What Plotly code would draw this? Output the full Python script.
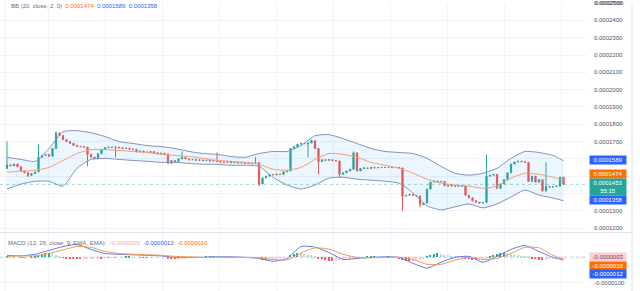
import plotly.graph_objects as go

# ---------------- data (prices in units of 1e-7) ----------------
U = 1e-7
OPEN_FIRST = 1545
CLOSE = [
    1565, 1560, 1570, 1555, 1530, 1520, 1505, 1515, 1525, 1609,
    1620, 1625, 1615, 1660, 1750, 1735, 1712, 1700, 1690, 1678,
    1672, 1670, 1668, 1626, 1610, 1600, 1630, 1655, 1665, 1668,
    1666, 1668, 1664, 1660, 1662, 1657, 1655, 1640, 1645, 1640,
    1637, 1642, 1635, 1630, 1633, 1628, 1575, 1590, 1585, 1600,
    1609, 1600, 1595, 1597, 1592, 1594, 1590, 1592, 1588, 1590,
    1586, 1582, 1580, 1583, 1578, 1580, 1576, 1578, 1574, 1576,
    1572, 1578, 1455, 1490, 1500, 1510, 1508, 1512, 1510, 1525,
    1530, 1660, 1670, 1685, 1690, 1688, 1692, 1705, 1660, 1585,
    1595, 1592, 1595, 1590, 1588, 1511, 1520, 1530, 1540, 1635,
    1530, 1545, 1548, 1545, 1550, 1548, 1550, 1551, 1550, 1551,
    1550, 1551, 1548, 1385, 1390, 1395, 1388, 1385, 1335, 1345,
    1426, 1466, 1472, 1468, 1470, 1445, 1443, 1445, 1442, 1444,
    1443, 1390, 1375, 1358, 1350, 1345, 1348, 1500, 1505, 1510,
    1430, 1455, 1480, 1520, 1570, 1582, 1586, 1583, 1580, 1470,
    1500, 1466, 1480, 1414, 1440, 1437, 1440, 1443, 1494, 1453,
]
HIGH_WICK = {0: 1700, 9: 1683, 14: 1757, 50: 1643, 60: 1637, 71: 1609,
             87: 1711, 99: 1643, 137: 1626, 154: 1580}
LOW_WICK = {6: 1495, 23: 1557, 31: 1609, 72: 1443, 73: 1470, 86: 1609,
            89: 1511, 95: 1494, 113: 1300, 118: 1320}

BAND_IDX = [0, 4, 8, 12, 16, 20, 24, 28, 32, 36, 40, 44, 48, 52, 56, 60, 64, 68, 72, 76,
            80, 84, 88, 92, 96, 100, 104, 108, 112, 116, 120, 124, 128, 132, 136, 140,
            144, 148, 152, 156, 159]
BB_UPPER = [1609, 1597, 1586, 1660, 1757, 1763, 1751, 1729, 1700, 1689, 1677, 1671, 1660,
            1643, 1631, 1626, 1614, 1609, 1631, 1643, 1643, 1677, 1734, 1740, 1717, 1689,
            1660, 1643, 1637, 1631, 1603, 1557, 1517, 1506, 1517, 1546, 1603, 1643, 1637,
            1620, 1589]
BB_BASIS = [1523, 1529, 1534, 1551, 1591, 1631, 1654, 1654, 1649, 1643, 1637, 1626, 1620,
            1614, 1603, 1591, 1586, 1580, 1569, 1540, 1534, 1551, 1597, 1631, 1626, 1609,
            1580, 1563, 1546, 1517, 1483, 1460, 1449, 1443, 1431, 1443, 1489, 1517, 1511,
            1494, 1474]
BB_LOWER = [1426, 1454, 1471, 1471, 1443, 1546, 1597, 1603, 1597, 1591, 1586, 1580, 1580,
            1574, 1569, 1569, 1563, 1563, 1557, 1494, 1449, 1426, 1449, 1489, 1494, 1483,
            1477, 1471, 1460, 1403, 1329, 1306, 1323, 1340, 1317, 1340, 1380, 1420, 1391,
            1374, 1358]

MACD_LINE = [6, 4, 10, 25, 40, 48, 29, 13, 10, 8, 6, 4, -2, -2, -2, 0, 0, -2, -6, -17,
             -6, 40, 38, 17, -10, -6, -2, 0, -2, -25, -44, -21, -2, 2, -21, 2, 29, 44, 21,
             -2, -12]
MACD_SIGNAL = [2, 4, 4, 13, 27, 40, 37, 21, 13, 10, 8, 6, 2, 0, -2, -2, -2, -2, -4, -10,
               -12, 15, 35, 30, 10, -2, -4, -2, -2, -10, -29, -29, -13, -2, -10, -6, 13,
               37, 35, 6, -10]
MACD_HIST = [3, 2, 1, 0, -1, -1, 0, 1, 2,
             8, 12, 15, 17,
             12, 9, 5,
             -2, -4, -6, -7, -8, -8, -7, -6, -5,
             -4, -3, -3, -2, -2, -1, -1, 0, 0, 1, 1, 0, 0, -1, -1, -1, 0, 0, 0, 0, 0,
             -3, -5, -6, -5, -4, -3, -2,
             -1, -1, 0, 0, 1, 1, 1, 0, 0, 0, -1, -1, -1, 0, 0, 0, -1, -1, -1,
             -6, -10, -12, -11, -9, -6, -4, -2, 0,
             8, 14, 18, 16, 14, 10, 7, 4,
             -4, -8, -12, -14, -15, -13, -11, -9, -7,
             -5, -3, -2, -1, 0, 1, 1, 1, 0, 0, 0, 1, 0, 0,
             -4, -9, -13, -16, -15, -12, -9,
             -4, 2, 8, 13, 15, 13, 10, 8, 6, 5, 3, 2,
             -3, -7, -10, -12, -10, -7, -3,
             4, 8, 12, 15, 17, 16, 14, 12, 9, 6, 4, 2,
             -4, -8, -11, -12, -10, -8, -7, -6, -5, -3]

PRICE_TICKS = [1200, 1300, 1400, 1500, 1600, 1700, 1800, 1900, 2000, 2100, 2200, 2300, 2400, 2500]
HIDDEN_TICKS = [1400, 1500, 1600]
LAST_CLOSE = 1453
LAST_UPPER, LAST_BASIS, LAST_LOWER = 1589, 1474, 1358
LAST_HIST, LAST_MACD, LAST_SIGNAL = -3, -12, -10
COUNTDOWN = "55:15"

# ---------------- layout helpers ----------------
W, H = 640, 291
PLOT_R = 587           # right edge of plot area (px)
PANE_SPLIT = 232       # px where MACD pane starts
STEP_PX = 3.5
FIRST_PX = 7


def px2x(px):
    return px / PLOT_R


def py2y(py):
    return (H - py) / H


GREEN, RED = "#26a69a", "#ef5350"
BLUE, ORANGE = "#2962ff", "#ff6d00"
GRID = "#f0f3fa"
TXT = "#50535e"
FONT = "Liberation Sans, Arial, sans-serif"

n = len(CLOSE)
idx = list(range(n))
opens = [OPEN_FIRST] + CLOSE[:-1]
highs = [max(o, c, HIGH_WICK.get(i, 0)) * U for i, (o, c) in enumerate(zip(opens, CLOSE))]
lows = [min(o, c, LOW_WICK.get(i, 10 ** 9)) * U for i, (o, c) in enumerate(zip(opens, CLOSE))]

fig = go.Figure()

# Bollinger fill + lines
band_line = dict(color="#8593c4", width=1, shape="spline", smoothing=0.6)
fig.add_trace(go.Scatter(x=BAND_IDX, y=[v * U for v in BB_UPPER], mode="lines", line=band_line,
                         hoverinfo="skip", showlegend=False))
fig.add_trace(go.Scatter(x=BAND_IDX, y=[v * U for v in BB_LOWER], mode="lines", line=band_line,
                         fill="tonexty", fillcolor="rgba(33,150,243,0.09)",
                         hoverinfo="skip", showlegend=False))
fig.add_trace(go.Scatter(x=BAND_IDX, y=[v * U for v in BB_BASIS], mode="lines",
                         line=dict(color="#f5a06e", width=1, shape="spline", smoothing=0.6),
                         hoverinfo="skip", showlegend=False))

# Candles
fig.add_trace(go.Candlestick(
    x=idx, open=[v * U for v in opens], close=[v * U for v in CLOSE], high=highs, low=lows,
    increasing=dict(line=dict(color=GREEN, width=1), fillcolor=GREEN),
    decreasing=dict(line=dict(color=RED, width=1), fillcolor=RED),
    whiskerwidth=0, showlegend=False, hoverinfo="skip"))

# MACD histogram colours
hist_colors = []
prev = 0
for v in MACD_HIST:
    if v >= 0:
        hist_colors.append("#26a69a" if v >= prev else "#b2dfdb")
    else:
        hist_colors.append("#ffcdd2" if v > prev else "#ff5252")
    prev = v
fig.add_trace(go.Bar(x=idx, y=[v * U for v in MACD_HIST], marker=dict(color=hist_colors, line=dict(width=0)),
                     width=0.5, xaxis="x2", yaxis="y2", showlegend=False, hoverinfo="skip"))
fig.add_trace(go.Scatter(x=BAND_IDX, y=[v * U for v in MACD_LINE], mode="lines",
                         line=dict(color="#5b7ff0", width=1, shape="spline", smoothing=0.6),
                         xaxis="x2", yaxis="y2", showlegend=False, hoverinfo="skip"))
fig.add_trace(go.Scatter(x=BAND_IDX, y=[v * U for v in MACD_SIGNAL], mode="lines",
                         line=dict(color="#f59a55", width=1, shape="spline", smoothing=0.6),
                         xaxis="x2", yaxis="y2", showlegend=False, hoverinfo="skip"))

x_lo = (0 - FIRST_PX) / STEP_PX
x_hi = (PLOT_R - FIRST_PX) / STEP_PX
grid_x0 = (48 - FIRST_PX) / STEP_PX
grid_dx = 57 / STEP_PX

main_bot = 1700 - (PANE_SPLIT - 140) * 100 / 17.5
main_top = 1700 + 140 * 100 / 17.5 + 0.3
zero_py = 256.5
per_px = 100 / 26.0
macd_top = (zero_py - PANE_SPLIT) * per_px
macd_bot = -(H - zero_py) * per_px

split = py2y(PANE_SPLIT)
xcommon = dict(range=[x_lo, x_hi], showticklabels=False, showgrid=True, gridcolor=GRID,
               gridwidth=1, tick0=grid_x0, dtick=grid_dx, zeroline=False, showline=False,
               rangeslider=dict(visible=False), fixedrange=True)
fig.update_layout(
    width=W, height=H, margin=dict(l=0, r=W - PLOT_R, t=0, b=0),
    paper_bgcolor="white", plot_bgcolor="white", font=dict(family=FONT, size=6, color=TXT),
    showlegend=False, bargap=0, boxgap=0.5,
    xaxis=dict(domain=[0, 1], anchor="y", **xcommon),
    xaxis2=dict(domain=[0, 1], anchor="y2", matches="x", **xcommon),
    yaxis=dict(domain=[split, 1], side="right", range=[main_bot * U, main_top * U],
               tickvals=[v * U for v in PRICE_TICKS],
               ticktext=["" if v in HIDDEN_TICKS else f"{v * U:.7f}" for v in PRICE_TICKS],
               showgrid=True, gridcolor=GRID, zeroline=False, ticks="", ticklabelstandoff=6,
               ticklabeloverflow="allow",
               tickfont=dict(size=6, color=TXT, family=FONT), fixedrange=True),
    yaxis2=dict(domain=[0, split], side="right", range=[macd_bot * U, macd_top * U],
                tickvals=[0, -100 * U], ticktext=["", "-0.0000100"],
                showgrid=True, gridcolor=GRID, zeroline=False, ticks="", ticklabelstandoff=6,
                tickfont=dict(size=6, color=TXT, family=FONT), fixedrange=True),
)

shapes = [
    dict(type="line", xref="x", yref="y", x0=x_lo, x1=x_hi, y0=LAST_CLOSE * U, y1=LAST_CLOSE * U,
         line=dict(color="rgba(38,166,154,0.45)", width=1, dash="dot")),
    dict(type="line", xref="x2", yref="y2", x0=x_lo, x1=x_hi, y0=LAST_HIST * U, y1=LAST_HIST * U,
         line=dict(color="rgba(255,160,170,0.7)", width=1, dash="dot")),
    dict(type="line", xref="paper", yref="paper", x0=0, x1=px2x(632), y0=split, y1=split,
         line=dict(color="#e0e3eb", width=1)),
    dict(type="line", xref="paper", yref="paper", x0=px2x(632), x1=px2x(632), y0=0, y1=1,
         line=dict(color="#e0e3eb", width=1)),
    dict(type="line", xref="paper", yref="paper", x0=px2x(5), x1=px2x(5), y0=0, y1=1,
         line=dict(color="#eef0f5", width=1)),
]
fig.update_layout(shapes=shapes)

ann = []
# top-left legends
ann.append(dict(xref="paper", yref="paper", x=px2x(9), y=py2y(3), xanchor="left", yanchor="middle",
                showarrow=False, font=dict(size=6, color="#6a6d78", family=FONT),
                text=("BB (20, close, 2, 0)&nbsp;&nbsp;"
                      f"<span style='color:{ORANGE}'>{LAST_BASIS * U:.7f}</span>&nbsp;&nbsp;"
                      f"<span style='color:{BLUE}'>{LAST_UPPER * U:.7f}</span>&nbsp;&nbsp;"
                      f"<span style='color:{BLUE}'>{LAST_LOWER * U:.7f}</span>")))
ann.append(dict(xref="paper", yref="paper", x=px2x(6), y=py2y(242), xanchor="left", yanchor="middle",
                showarrow=False, font=dict(size=6, color="#6a6d78", family=FONT),
                text=("MACD (12, 26, close, 9, EMA, EMA)&nbsp;&nbsp;&nbsp;"
                      f"<span style='color:#f7a8b0'>{LAST_HIST * U:.7f}</span>&nbsp;&nbsp;"
                      f"<span style='color:{BLUE}'>{LAST_MACD * U:.7f}</span>&nbsp;&nbsp;"
                      f"<span style='color:{ORANGE}'>{LAST_SIGNAL * U:.7f}</span>")))
# partially visible top tick label
ann.append(dict(xref="paper", yref="paper", x=px2x(593), y=py2y(0.5), xanchor="left", yanchor="middle",
                showarrow=False, text=f"{PRICE_TICKS[-1] * U:.7f}",
                font=dict(size=6, color=TXT, family=FONT)))


def box(text, py, bg, fg="white", h=8):
    return dict(xref="paper", yref="paper", x=px2x(589), y=py2y(py), xanchor="left", yanchor="middle",
                showarrow=False, text=text, bgcolor=bg, font=dict(size=6, color=fg, family=FONT),
                width=36, height=h, borderpad=0, align="center", valign="middle")


ann.append(box(f"{LAST_UPPER * U:.7f}", 159, BLUE))
ann.append(box(f"{LAST_BASIS * U:.7f}", 172.5, ORANGE))
ann.append(box(f"{LAST_CLOSE * U:.7f}<br>{COUNTDOWN}", 186, GREEN, h=16))
ann.append(box(f"{LAST_LOWER * U:.7f}", 199, BLUE))
ann.append(box(f"{LAST_HIST * U:.7f}", 257, "#ffcdd2", fg="#6a4a50"))
ann.append(box(f"{LAST_SIGNAL * U:.7f}", 265.5, ORANGE))
ann.append(box(f"{LAST_MACD * U:.7f}", 274, BLUE))
fig.update_layout(annotations=ann)

fig.write_html("out.html")
